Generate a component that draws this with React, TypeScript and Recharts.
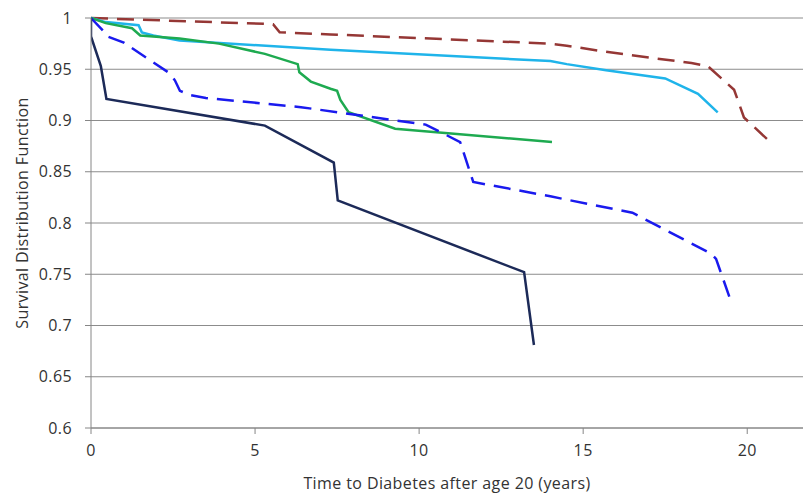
import { LineChart, Line, XAxis, YAxis, CartesianGrid, Label } from 'recharts';

// Survival curves (time in years, survival fraction)
const navyX = [0, 0, 0.3, 0.47, 5.3, 7.4, 7.52, 13.2, 13.5];
const navyY = [1, 0.982, 0.953, 0.921, 0.895, 0.859, 0.822, 0.752, 0.681];

const blueX = [0, 0.45, 0.5, 1.0, 2.4, 2.56, 2.71, 3.0, 3.5, 6.4, 10.2, 11.25, 11.65, 14.0, 16.5, 18.9, 19.05, 19.5];
const blueY = [1, 0.985, 0.982, 0.976, 0.946, 0.939, 0.929, 0.925, 0.922, 0.913, 0.896, 0.879, 0.84, 0.826, 0.81, 0.77, 0.765, 0.724];

const greenX = [0, 0.45, 1.25, 1.5, 2.7, 3.9, 5.3, 6.3, 6.35, 6.7, 7.3, 7.5, 7.6, 7.85, 9.27, 14.05];
const greenY = [1, 0.995, 0.99, 0.983, 0.98, 0.975, 0.965, 0.955, 0.947, 0.938, 0.931, 0.929, 0.92, 0.908, 0.892, 0.879];

const cyanX = [0, 0.45, 1.45, 1.55, 1.9, 2.7, 7.3, 14.0, 14.5, 15.7, 17.5, 18.5, 19.1];
const cyanY = [1, 0.996, 0.993, 0.986, 0.983, 0.978, 0.969, 0.958, 0.955, 0.949, 0.941, 0.926, 0.908];

const brownX = [0, 5.55, 5.75, 7.3, 14.0, 14.5, 15.7, 18.3, 18.8, 19.6, 19.9, 20.6];
const brownY = [1, 0.994, 0.986, 0.984, 0.975, 0.973, 0.967, 0.956, 0.953, 0.93, 0.903, 0.882];

const xTicks = [0, 5, 10, 15, 20];
const yTicks = [0.6, 0.65, 0.7, 0.75, 0.8, 0.85, 0.9, 0.95, 1];

const zip = (xs: number[], ys: number[]) => xs.map((x, i) => ({ x, y: ys[i] }));

const TEXT = { fill: '#333', fontSize: 16, fontFamily: '"Open Sans", sans-serif', letterSpacing: 0.4 };
const AXIS = '#868686';

export default function App() {
  return (
    <div style={{ position: 'absolute', left: 0, top: 0, background: '#fff' }}>
      <LineChart width={804} height={494} margin={{ top: 18, right: 1, left: 0, bottom: 0 }}>
        <CartesianGrid vertical={false} stroke="#8c8c8c" strokeWidth={1} />
        <XAxis
          type="number"
          dataKey="x"
          domain={[0, 21.7]}
          ticks={xTicks}
          allowDataOverflow
          height={66}
          stroke={AXIS}
          tickSize={6}
          tickMargin={11}
          tick={TEXT}
        >
          <Label value="Time to Diabetes after age 20 (years)" position="insideBottom" offset={5} style={TEXT} />
        </XAxis>
        <YAxis
          type="number"
          domain={[0.6, 1]}
          ticks={yTicks}
          width={91}
          stroke={AXIS}
          tickSize={6}
          tickMargin={13}
          tickFormatter={(v: number) => String(v)}
          tick={TEXT}
        >
          <Label
            content={() => (
              <text
                x={22}
                y={213}
                transform="rotate(-90 22 213)"
                textAnchor="middle"
                dominantBaseline="central"
                style={TEXT}
              >
                Survival Distribution Function
              </text>
            )}
          />
        </YAxis>
        <Line data={zip(brownX, brownY)} dataKey="y" stroke="#953735" strokeWidth={2.5} strokeDasharray="17 9" dot={false} isAnimationActive={false} />
        <Line data={zip(cyanX, cyanY)} dataKey="y" stroke="#1fb4ea" strokeWidth={2.5} dot={false} isAnimationActive={false} />
        <Line data={zip(greenX, greenY)} dataKey="y" stroke="#1eaa50" strokeWidth={2.5} dot={false} isAnimationActive={false} />
        <Line data={zip(blueX, blueY)} dataKey="y" stroke="#1a1aee" strokeWidth={2.5} strokeDasharray="17 9" dot={false} isAnimationActive={false} />
        <Line data={zip(navyX, navyY)} dataKey="y" stroke="#1c2a58" strokeWidth={2.5} dot={false} isAnimationActive={false} />
      </LineChart>
    </div>
  );
}
